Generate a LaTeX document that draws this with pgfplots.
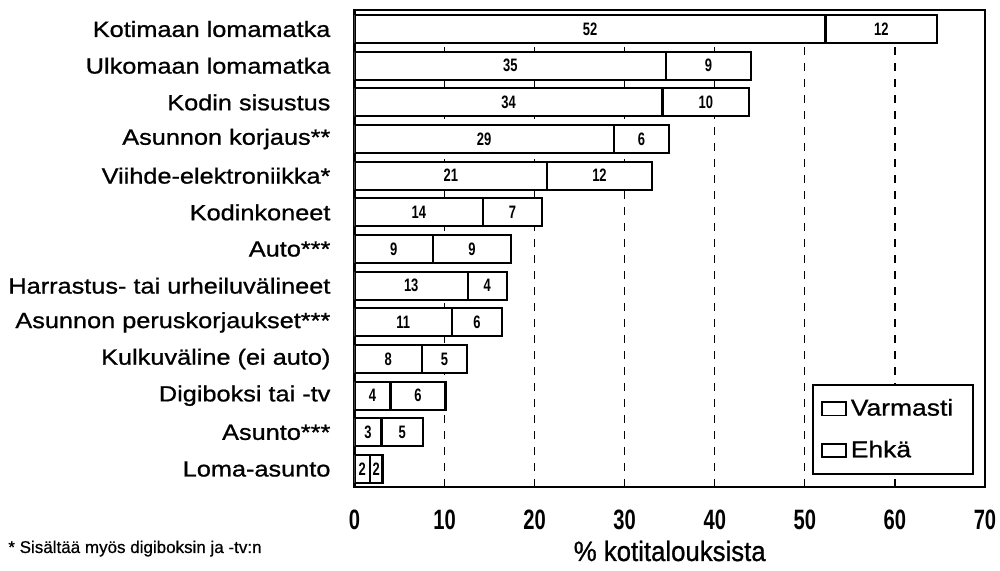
\documentclass[border=0pt]{standalone}
\usepackage{fontspec}
\setmainfont{Liberation Sans}
\newfontfamily\catfont[FakeStretch=1.15, FakeBold=0.9]{Liberation Sans}
\newfontfamily\condfont[FakeStretch=0.72]{Liberation Sans}
\newfontfamily\labfont[FakeStretch=0.92, FakeBold=0.9]{Liberation Sans}
\newfontfamily\notefont[FakeBold=0.6]{Liberation Sans}
\usepackage{pgfplots}
\usepackage{pgfplotstable}
\pgfplotsset{compat=1.18}

\pgfplotstableread{
y  v    e    vl el
12 52.3 12.4 52 12
11 34.6 9.4  35 9
10 34.2 9.6  34 10
9  28.8 6.1  29 6
8  21.4 11.6 21 12
7  14.3 6.5  14 7
6  8.7  8.7  9  9
5  12.6 4.3  13 4
4  10.8 5.6  11 6
3  7.5  5.0  8  5
2  4.0  6.1  4  6
1  3.0  4.6  3  5
0  1.7  1.4  2  2
}\data

\begin{document}
\begin{tikzpicture}
\useasboundingbox (-177.25pt,-42pt) rectangle (322.75pt,243.5pt);
\begin{axis}[
  at={(0,0)}, anchor=south west, scale only axis,
  width=315.25pt, height=238.5pt,
  xmin=0, xmax=70, ymin=-0.49, ymax=12.52,
  xtick={0,10,...,70}, xticklabels={0,10,20,30,40,50,60,70},
  ytick={0,...,12},
  yticklabels={Loma-asunto, Asunto***, Digiboksi tai -tv, Kulkuväline (ei auto), Asunnon peruskorjaukset***, Harrastus- tai urheiluvälineet, Auto***, Kodinkoneet, Viihde-elektroniikka*, Asunnon korjaus**, Kodin sisustus, Ulkomaan lomamatka, Kotimaan lomamatka},
  major tick length=0pt,
  xmajorgrids,
  grid style={black, line width=0.6pt, dash pattern=on 4pt off 4pt},
  axis line style={line width=1.2pt},
  yticklabel style={font=\catfont\fontsize{11}{12}\selectfont, anchor=east, xshift=-8.5pt},
  xticklabel style={font=\condfont\bfseries\fontsize{14}{14}\selectfont, anchor=north, yshift=-7.8pt},
  xlabel={\% kotitalouksista},
  xlabel style={font=\labfont\fontsize{14}{16}\selectfont, at={(rel axis cs:0.5,0)}, anchor=base, yshift=-37pt},
  legend style={at={(0.9826,0.025)}, anchor=south east, draw=black, line width=0.8pt,
    font=\catfont\fontsize{11.5}{13}\selectfont, row sep=7pt, inner xsep=4pt, inner ysep=5pt,
    cells={anchor=west}},
  legend image code/.code={\draw[black,line width=0.8pt] (0pt,-3.3pt) rectangle (12pt,3.3pt);},
]
\addlegendimage{black}
\addlegendentry{Varmasti\hspace*{4pt}}
\addlegendimage{black}
\addlegendentry{Ehkä}
\addplot[xbar, bar width=14pt, bar shift=0pt, fill=white, draw=black, line width=1.1pt, forget plot]
  table[x expr=\thisrow{v}+\thisrow{e}, y=y]{\data};
\addplot[xbar, bar width=14pt, bar shift=0pt, fill=white, draw=black, line width=1.1pt, forget plot]
  table[x=v, y=y]{\data};
\addplot[draw=none, mark=none, forget plot, nodes near coords, point meta=explicit symbolic,
  every node near coord/.append style={anchor=center, font=\condfont\bfseries\fontsize{9}{9}\selectfont, inner sep=0pt}]
  table[x expr=\thisrow{v}/2, y=y, meta=vl]{\data};
\addplot[draw=none, mark=none, forget plot, nodes near coords, point meta=explicit symbolic,
  every node near coord/.append style={anchor=center, font=\condfont\bfseries\fontsize{9}{9}\selectfont, inner sep=0pt}]
  table[x expr=\thisrow{v}+\thisrow{e}/2, y=y, meta=el]{\data};
\end{axis}
\node[anchor=base west, inner sep=0pt, font=\notefont\fontsize{8.5}{10}\selectfont] at (-173.25pt,-33pt) {* Sisältää myös digiboksin ja -tv:n};
\end{tikzpicture}
\end{document}
